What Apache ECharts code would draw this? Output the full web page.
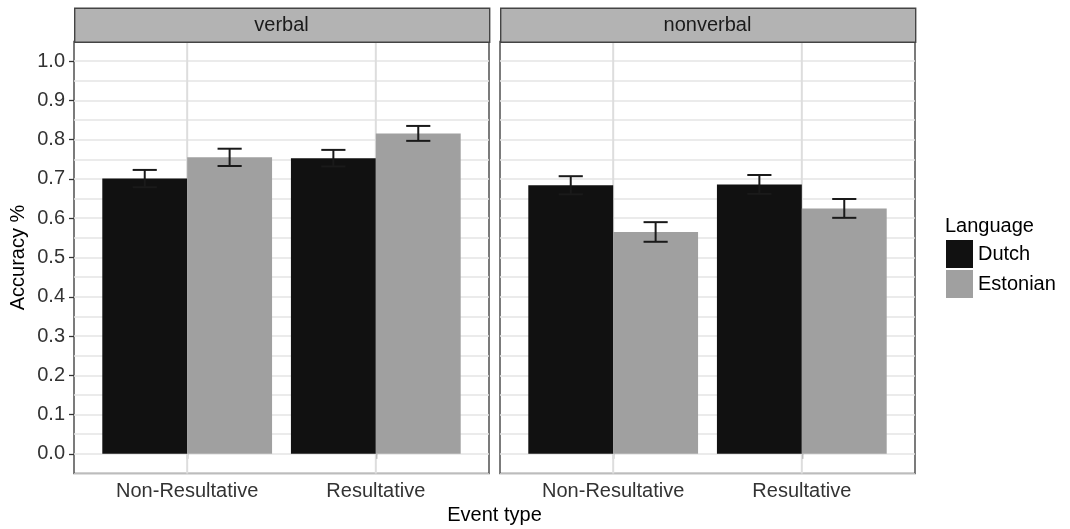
<!DOCTYPE html>
<html>
<head>
<meta charset="utf-8">
<script src="https://cdn.jsdelivr.net/npm/echarts@6/dist/echarts.min.js"></script>
<style>
  html, body { margin: 0; padding: 0; background: #fff; }
  #chart { width: 1070px; height: 529px; }
</style>
</head>
<body>
<div id="chart"></div>
<script>
// ---- data ----
const categories = ['Non-Resultative', 'Resultative'];
const facets = ['verbal', 'nonverbal'];
const languages = ['Dutch', 'Estonian'];

// mean accuracy per event type
const verbalDutch = [0.701, 0.753];
const verbalEstonian = [0.755, 0.816];
const nonverbalDutch = [0.684, 0.686];
const nonverbalEstonian = [0.565, 0.625];

// standard errors
const verbalDutchSE = [0.022, 0.021];
const verbalEstonianSE = [0.022, 0.019];
const nonverbalDutchSE = [0.023, 0.024];
const nonverbalEstonianSE = [0.025, 0.024];

const yTicks = [0.0, 0.1, 0.2, 0.3, 0.4, 0.5, 0.6, 0.7, 0.8, 0.9, 1.0];

const means = { verbal: [verbalDutch, verbalEstonian], nonverbal: [nonverbalDutch, nonverbalEstonian] };
const errors = { verbal: [verbalDutchSE, verbalEstonianSE], nonverbal: [nonverbalDutchSE, nonverbalEstonianSE] };

// ---- layout ----
const FONT = "'Liberation Sans', Arial, Helvetica, sans-serif";
const fillColors = ['#111111', '#a0a0a0'];
const yMin = -0.05, yMax = 1.05;
const panelLefts = [74, 500];
const panelW = 415;
const panelTop = 41.5;
const panelH = 432;
const stripTop = 7.5;
const expand = 0.6;                       // discrete axis padding, in category units
const unit = panelW / (categories.length - 1 + 2 * expand);
const innerOffset = unit * (expand - 0.5);
const innerW = unit * categories.length;

const grid = [], xAxis = [], yAxis = [], series = [], graphic = [];

facets.forEach((facet, fi) => {
  const left = panelLefts[fi];
  const outer = grid.length;
  grid.push({ left: left, top: panelTop, width: panelW, height: panelH,
              show: true, backgroundColor: '#fff', borderColor: '#444', borderWidth: 1.4 });
  const inner = grid.length;
  grid.push({ left: left + innerOffset, top: panelTop, width: innerW, height: panelH });

  // outer panel: horizontal grid lines (major + minor) and y labels
  xAxis.push({ type: 'value', gridIndex: outer, min: 0, max: 1, show: false });
  yAxis.push({ type: 'value', gridIndex: outer, position: 'right', min: yMin, max: yMax, interval: 0.05,
               axisLine: { show: false }, axisTick: { show: false }, axisLabel: { show: false },
               splitLine: { show: true, lineStyle: { color: '#e4e4e4', width: 1.5 } } });
  yAxis.push({ type: 'value', gridIndex: outer, position: 'left', min: yMin, max: yMax,
               axisLine: { show: false }, splitLine: { show: false },
               axisTick: { show: fi === 0, customValues: yTicks, length: 5,
                           lineStyle: { color: '#333', width: 1.3 } },
               axisLabel: { show: fi === 0, customValues: yTicks, margin: 9,
                            fontFamily: FONT, fontSize: 20, color: '#333',
                            formatter: v => v.toFixed(1) } });

  // inner area: categorical x axis carrying the bars
  const xi = xAxis.length;
  xAxis.push({ type: 'category', gridIndex: inner, data: categories,
               axisLine: { show: false },
               axisTick: { show: true, alignWithLabel: true, length: 5,
                           lineStyle: { color: '#333', width: 1.3 } },
               axisLabel: { margin: 8, fontFamily: FONT, fontSize: 20, color: '#333' },
               splitLine: { show: false } });
  const yi = yAxis.length;
  yAxis.push({ type: 'value', gridIndex: inner, min: yMin, max: yMax, show: false });

  // vertical major grid lines at each category
  series.push({
    type: 'custom', xAxisIndex: xi, yAxisIndex: yi, z: 1, silent: true,
    data: categories.map((c, i) => [i]),
    encode: { x: 0 },
    renderItem: (params, api) => {
      const p0 = api.coord([api.value(0), yMin]);
      const p1 = api.coord([api.value(0), yMax]);
      return { type: 'line', shape: { x1: p0[0], y1: p0[1], x2: p1[0], y2: p1[1] },
               style: { stroke: '#dddddd', lineWidth: 2 } };
    }
  });

  // bars
  languages.forEach((lang, li) => {
    series.push({
      type: 'bar', name: lang, xAxisIndex: xi, yAxisIndex: yi, z: 2,
      data: means[facet][li],
      barGap: '0%', barCategoryGap: '10%',
      itemStyle: { color: fillColors[li] },
      emphasis: { disabled: true }, silent: true
    });
  });

  // error bars
  const ebData = [];
  languages.forEach((lang, li) => {
    means[facet][li].forEach((m, ci) => {
      const se = errors[facet][li][ci];
      ebData.push([ci, m - se, m + se, li === 0 ? -1 : 1]);
    });
  });
  series.push({
    type: 'custom', xAxisIndex: xi, yAxisIndex: yi, z: 3, silent: true,
    data: ebData,
    encode: { x: 0, y: [1, 2] },
    renderItem: (params, api) => {
      const band = api.size([1, 0])[0];
      const cx = api.coord([api.value(0), 0])[0] + api.value(3) * band * 0.225;
      const yl = api.coord([api.value(0), api.value(1)])[1];
      const yh = api.coord([api.value(0), api.value(2)])[1];
      const hw = band * 0.064;
      const st = { stroke: '#1a1a1a', lineWidth: 2 };
      return { type: 'group', children: [
        { type: 'line', shape: { x1: cx, y1: yl, x2: cx, y2: yh }, style: st },
        { type: 'line', shape: { x1: cx - hw, y1: yl, x2: cx + hw, y2: yl }, style: st },
        { type: 'line', shape: { x1: cx - hw, y1: yh, x2: cx + hw, y2: yh }, style: st }
      ] };
    }
  });

  // facet strip
  graphic.push({ type: 'rect', left: left, top: stripTop, z: 10,
                 shape: { width: panelW, height: panelTop - stripTop },
                 style: { fill: '#b3b3b3', stroke: '#444', lineWidth: 1.4 } });
  graphic.push({ type: 'text', x: left + panelW / 2, y: (stripTop + panelTop) / 2 + 1, z: 11,
                 style: { text: facet, font: '20px ' + FONT, fill: '#1a1a1a',
                          textAlign: 'center', textVerticalAlign: 'middle' } });
});

// axis titles and legend title
graphic.push({ type: 'text', x: (panelLefts[0] + panelLefts[1] + panelW) / 2, y: 515, z: 11,
               style: { text: 'Event type', font: '20px ' + FONT, fill: '#000',
                        textAlign: 'center', textVerticalAlign: 'middle' } });
graphic.push({ type: 'text', x: 18, y: panelTop + panelH / 2, rotation: Math.PI / 2, z: 11,
               style: { text: 'Accuracy %', font: '20px ' + FONT, fill: '#000',
                        textAlign: 'center', textVerticalAlign: 'middle' } });
graphic.push({ type: 'text', x: 945, y: 226, z: 11,
               style: { text: 'Language', font: '20px ' + FONT, fill: '#000',
                        textAlign: 'left', textVerticalAlign: 'middle' } });

const chart = echarts.init(document.getElementById('chart'), null, { renderer: 'canvas' });
chart.setOption({
  animation: false,
  backgroundColor: '#fff',
  grid: grid,
  xAxis: xAxis,
  yAxis: yAxis,
  series: series,
  graphic: graphic,
  legend: {
    data: languages, orient: 'vertical', left: 946, top: 240, padding: 0,
    icon: 'rect', itemWidth: 27, itemHeight: 28, itemGap: 2, selectedMode: false,
    textStyle: { fontFamily: FONT, fontSize: 20, color: '#000' }
  }
});
</script>
</body>
</html>
